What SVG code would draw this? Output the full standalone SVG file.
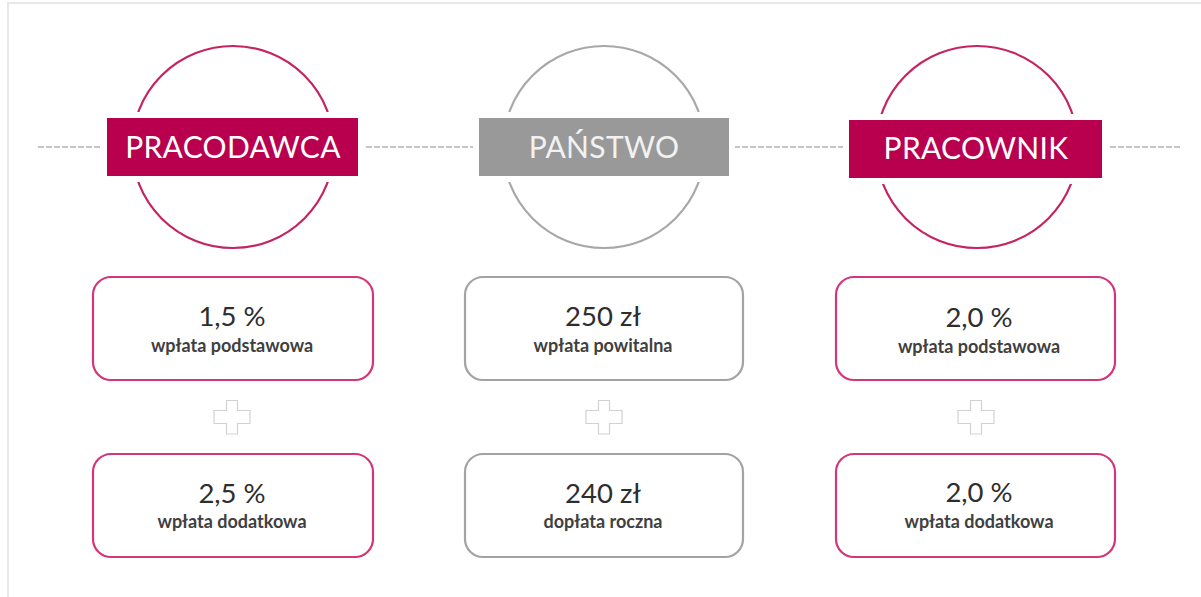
<svg xmlns="http://www.w3.org/2000/svg" width="1201" height="597" viewBox="0 0 1201 597">
<style>
.frame{stroke:#e8e8e8;stroke-width:2;fill:none}
.dash{stroke:#c4c4c4;stroke-width:2;stroke-dasharray:6 2;fill:none}
.ring-p{fill:none;stroke:#c42462;stroke-width:2.2}
.ring-g{fill:none;stroke:#a8a8a8;stroke-width:2.2}
.halo{fill:#fff}
.hdr-p{fill:#b8004f}
.hdr-g{fill:#999999}
.hdr-t{font-family:Lato,"Open Sans",sans-serif;font-size:30px;text-anchor:middle;fill:#ffffff;letter-spacing:0.3px}
.hdr-tg{fill:#f2f2f2}
.box-p{fill:#fff;stroke:#d4367a;stroke-width:2.2}
.box-g{fill:#fff;stroke:#a3a3a3;stroke-width:2.2}
.val{font-family:Lato,"Open Sans",sans-serif;font-size:27.5px;text-anchor:middle;fill:#2e2e2e}
.sub{font-family:Lato,"Open Sans",sans-serif;font-size:18px;font-weight:bold;text-anchor:middle;fill:#404040}
.plus{fill:#fff;stroke:#d2d2d2;stroke-width:1.2}
</style>
<defs>
<path id="plusShape" d="M-5.5,-16.5 h11 v10 h12.5 v13 h-12.5 v10.5 h-11 v-10.5 h-12.5 v-13 h12.5 z"/>
</defs>
<rect width="1201" height="597" fill="#ffffff"/>
<path class="frame" d="M8,597 V3 H1201"/>
<g id="connectors">
<line class="dash" x1="38" y1="147" x2="1180" y2="147"/>
</g>
<g id="pracodawca">
<circle class="ring-p" cx="233" cy="147" r="101"/>
<rect class="halo" x="101" y="112" width="263" height="70"/>
<rect class="hdr-p" x="107" y="118" width="251" height="58"/>
<text class="hdr-t" x="233" y="158">PRACODAWCA</text>
</g>
<g id="panstwo">
<circle class="ring-g" cx="604" cy="147" r="101"/>
<rect class="halo" x="473" y="112" width="262" height="70"/>
<rect class="hdr-g" x="479" y="118" width="250" height="58"/>
<text class="hdr-t hdr-tg" x="604" y="158">PAŃSTWO</text>
</g>
<g id="pracownik">
<circle class="ring-p" cx="977" cy="147" r="101"/>
<rect class="halo" x="843" y="114" width="265" height="70"/>
<rect class="hdr-p" x="849" y="120" width="253" height="58"/>
<text class="hdr-t" x="976" y="159">PRACOWNIK</text>
</g>
<g id="box-pracodawca-1">
<rect class="box-p" x="93" y="277" width="280" height="103" rx="18"/>
<text class="val" x="232" y="326">1,5 %</text>
<text class="sub" x="232" y="352">wpłata podstawowa</text>
</g>
<g id="plus-1"><use href="#plusShape" class="plus" x="232" y="417"/></g>
<g id="box-pracodawca-2">
<rect class="box-p" x="93" y="454" width="280" height="103" rx="18"/>
<text class="val" x="232" y="503">2,5 %</text>
<text class="sub" x="232" y="528">wpłata dodatkowa</text>
</g>
<g id="box-panstwo-1">
<rect class="box-g" x="465" y="277" width="278" height="103" rx="18"/>
<text class="val" x="603" y="326">250 zł</text>
<text class="sub" x="603" y="352">wpłata powitalna</text>
</g>
<g id="plus-2"><use href="#plusShape" class="plus" x="604" y="417"/></g>
<g id="box-panstwo-2">
<rect class="box-g" x="465" y="454" width="278" height="103" rx="18"/>
<text class="val" x="603" y="503">240 zł</text>
<text class="sub" x="603" y="528">dopłata roczna</text>
</g>
<g id="box-pracownik-1">
<rect class="box-p" x="836" y="277" width="279" height="103" rx="18"/>
<text class="val" x="979" y="327">2,0 %</text>
<text class="sub" x="979" y="353">wpłata podstawowa</text>
</g>
<g id="plus-3"><use href="#plusShape" class="plus" x="976" y="417"/></g>
<g id="box-pracownik-2">
<rect class="box-p" x="836" y="454" width="279" height="103" rx="18"/>
<text class="val" x="979" y="502">2,0 %</text>
<text class="sub" x="979" y="528">wpłata dodatkowa</text>
</g>
</svg>
